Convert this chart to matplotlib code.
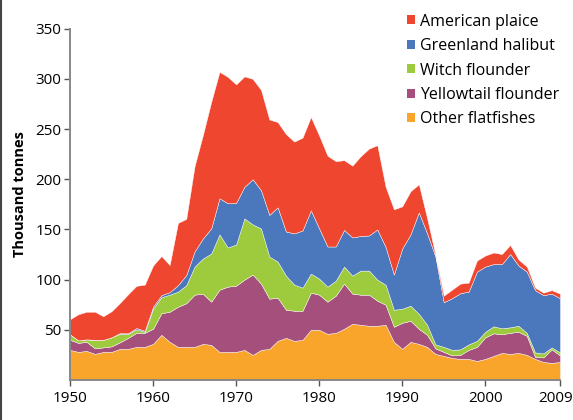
#!/usr/bin/env python3
# Capturas de peces planos (miles de toneladas), area apilada 1950-2009

import numpy as np
import matplotlib
matplotlib.use("Agg")
import matplotlib.pyplot as plt
import matplotlib.transforms as mtrans
from matplotlib.patches import Patch
from matplotlib.lines import Line2D

anios = np.arange(1950, 2010)

otros = [30, 28, 29, 26, 28, 28, 31, 31, 33, 33,
         36, 45, 38, 33, 33, 33, 36, 35, 28, 28,
         28, 30, 25, 30, 31, 39, 42, 39, 40, 50,
         50, 46, 47, 51, 56, 55, 54, 54, 55, 38,
         31, 38, 36, 33, 26, 24, 22, 21, 21, 19,
         21, 24, 27, 26, 27, 25, 21, 18, 17, 18]
yellowtail = [10, 9, 9, 5.5, 4.5, 5.5, 6.5, 11, 14, 14,
              15, 21.5, 30, 40, 43.5, 52, 50, 43, 62, 65,
              66, 70, 80, 66, 50, 43, 28, 30, 29, 37,
              35, 32, 37, 45, 30, 30, 31, 25, 20, 15,
              26, 21, 15, 12, 5.5, 4, 2.5, 4, 9, 14,
              21.5, 22.5, 18.5, 21, 21, 19, 2, 4.5, 13.5, 6.5]
witch = [5.5, 2.5, 2.5, 8.5, 7.5, 9, 8.5, 4, 3.5, 1,
         20, 16, 17, 15, 18, 28, 35, 48, 55, 39,
         41, 61, 50, 55, 42, 36, 34, 26, 23, 19,
         16, 15, 15, 17, 18, 24, 24, 21, 20, 17,
         14, 15, 15, 10, 4, 5, 5.5, 5.5, 5.5, 6,
         5.5, 7, 6, 5.5, 6, 3, 4.5, 4, 2, 3]
greenland = [0, 0, 0, 0, 0, 0, 0.7, 0.5, 1.3, 1,
             2, 2, 2.5, 6.5, 10, 15, 20, 25, 36, 44,
             41.5, 31.5, 45, 38, 41.5, 54, 44, 51, 57, 63,
             50, 40, 34, 36.5, 38, 34.5, 35, 50, 37.5, 35,
             60, 71, 101, 91, 87.5, 44.5, 51.5, 56, 52.5, 69,
             65, 62, 64, 73, 60, 61, 62, 58, 53.5, 54]
american = [15, 26, 27.5, 28, 23.5, 26, 30, 39, 42, 46,
            41, 39, 27, 62, 56, 85, 103, 126, 126, 126,
            118, 110, 100, 100, 95, 85, 97, 91.5, 92.5, 93,
            92.5, 90.5, 85, 69.5, 71.5, 79.5, 86.5, 84, 60, 65,
            42, 43, 28, 15, 1.5, 6.5, 8.5, 9.5, 9, 11,
            11, 11.5, 10, 9, 6, 5, 2.5, 2.5, 3.5, 4.5]

series = [otros, yellowtail, witch, greenland, american]
nombres = ["Other flatfishes", "Yellowtail flounder", "Witch flounder",
           "Greenland halibut", "American plaice"]
colores = ["#f9a52c", "#a44f7c", "#9ecb3d", "#4b77bd", "#ef4630"]

plt.rcParams["font.family"] = ["Open Sans", "DejaVu Sans"]

fig = plt.figure(figsize=(5.73, 4.2), dpi=100)
ax = fig.add_axes([70 / 573, 40 / 420, 490 / 573, 351.3 / 420])

ax.stackplot(anios, *series, colors=colores, edgecolor="#ffffff",
             linewidth=0.3)

ax.set_xlim(1950, 2009)
ax.set_ylim(0, 350)
ax.set_xticks([1950, 1960, 1970, 1980, 1990, 2000, 2009])
ax.set_yticks([50, 100, 150, 200, 250, 300, 350])
ax.tick_params(axis="both", labelsize=11, color="#555555", width=1,
               length=4, pad=2)
ax.tick_params(axis="x", pad=4)
for lado in ["top", "right"]:
    ax.spines[lado].set_visible(False)
for lado in ["left", "bottom"]:
    ax.spines[lado].set_color("#888888")
    ax.spines[lado].set_linewidth(1.4)

# la etiqueta 2009 queda pegada al borde derecho
ultima = ax.get_xticklabels()[-1]
ultima.set_transform(ultima.get_transform() +
                     mtrans.ScaledTranslation(-4 / 100, 0, fig.dpi_scale_trans))

ax.set_ylabel("Thousand tonnes", fontsize=10.5, fontweight="bold")
ax.yaxis.set_label_coords(-0.088, 0.53)

manejadores = [Patch(facecolor=c, edgecolor="none") for c in colores[::-1]]
ax.legend(manejadores, nombres[::-1], loc="upper left",
          bbox_to_anchor=(393 / 573, 1.0), bbox_transform=fig.transFigure,
          frameon=False, fontsize=11.5, handlelength=0.5, handleheight=0.5,
          handletextpad=0.35, labelspacing=0.53, borderaxespad=0.45)

fig.add_artist(Line2D([0.002, 0.002], [0, 1], transform=fig.transFigure,
                      color="#444444", linewidth=1.5))

fig.savefig("out.png", dpi=100)
